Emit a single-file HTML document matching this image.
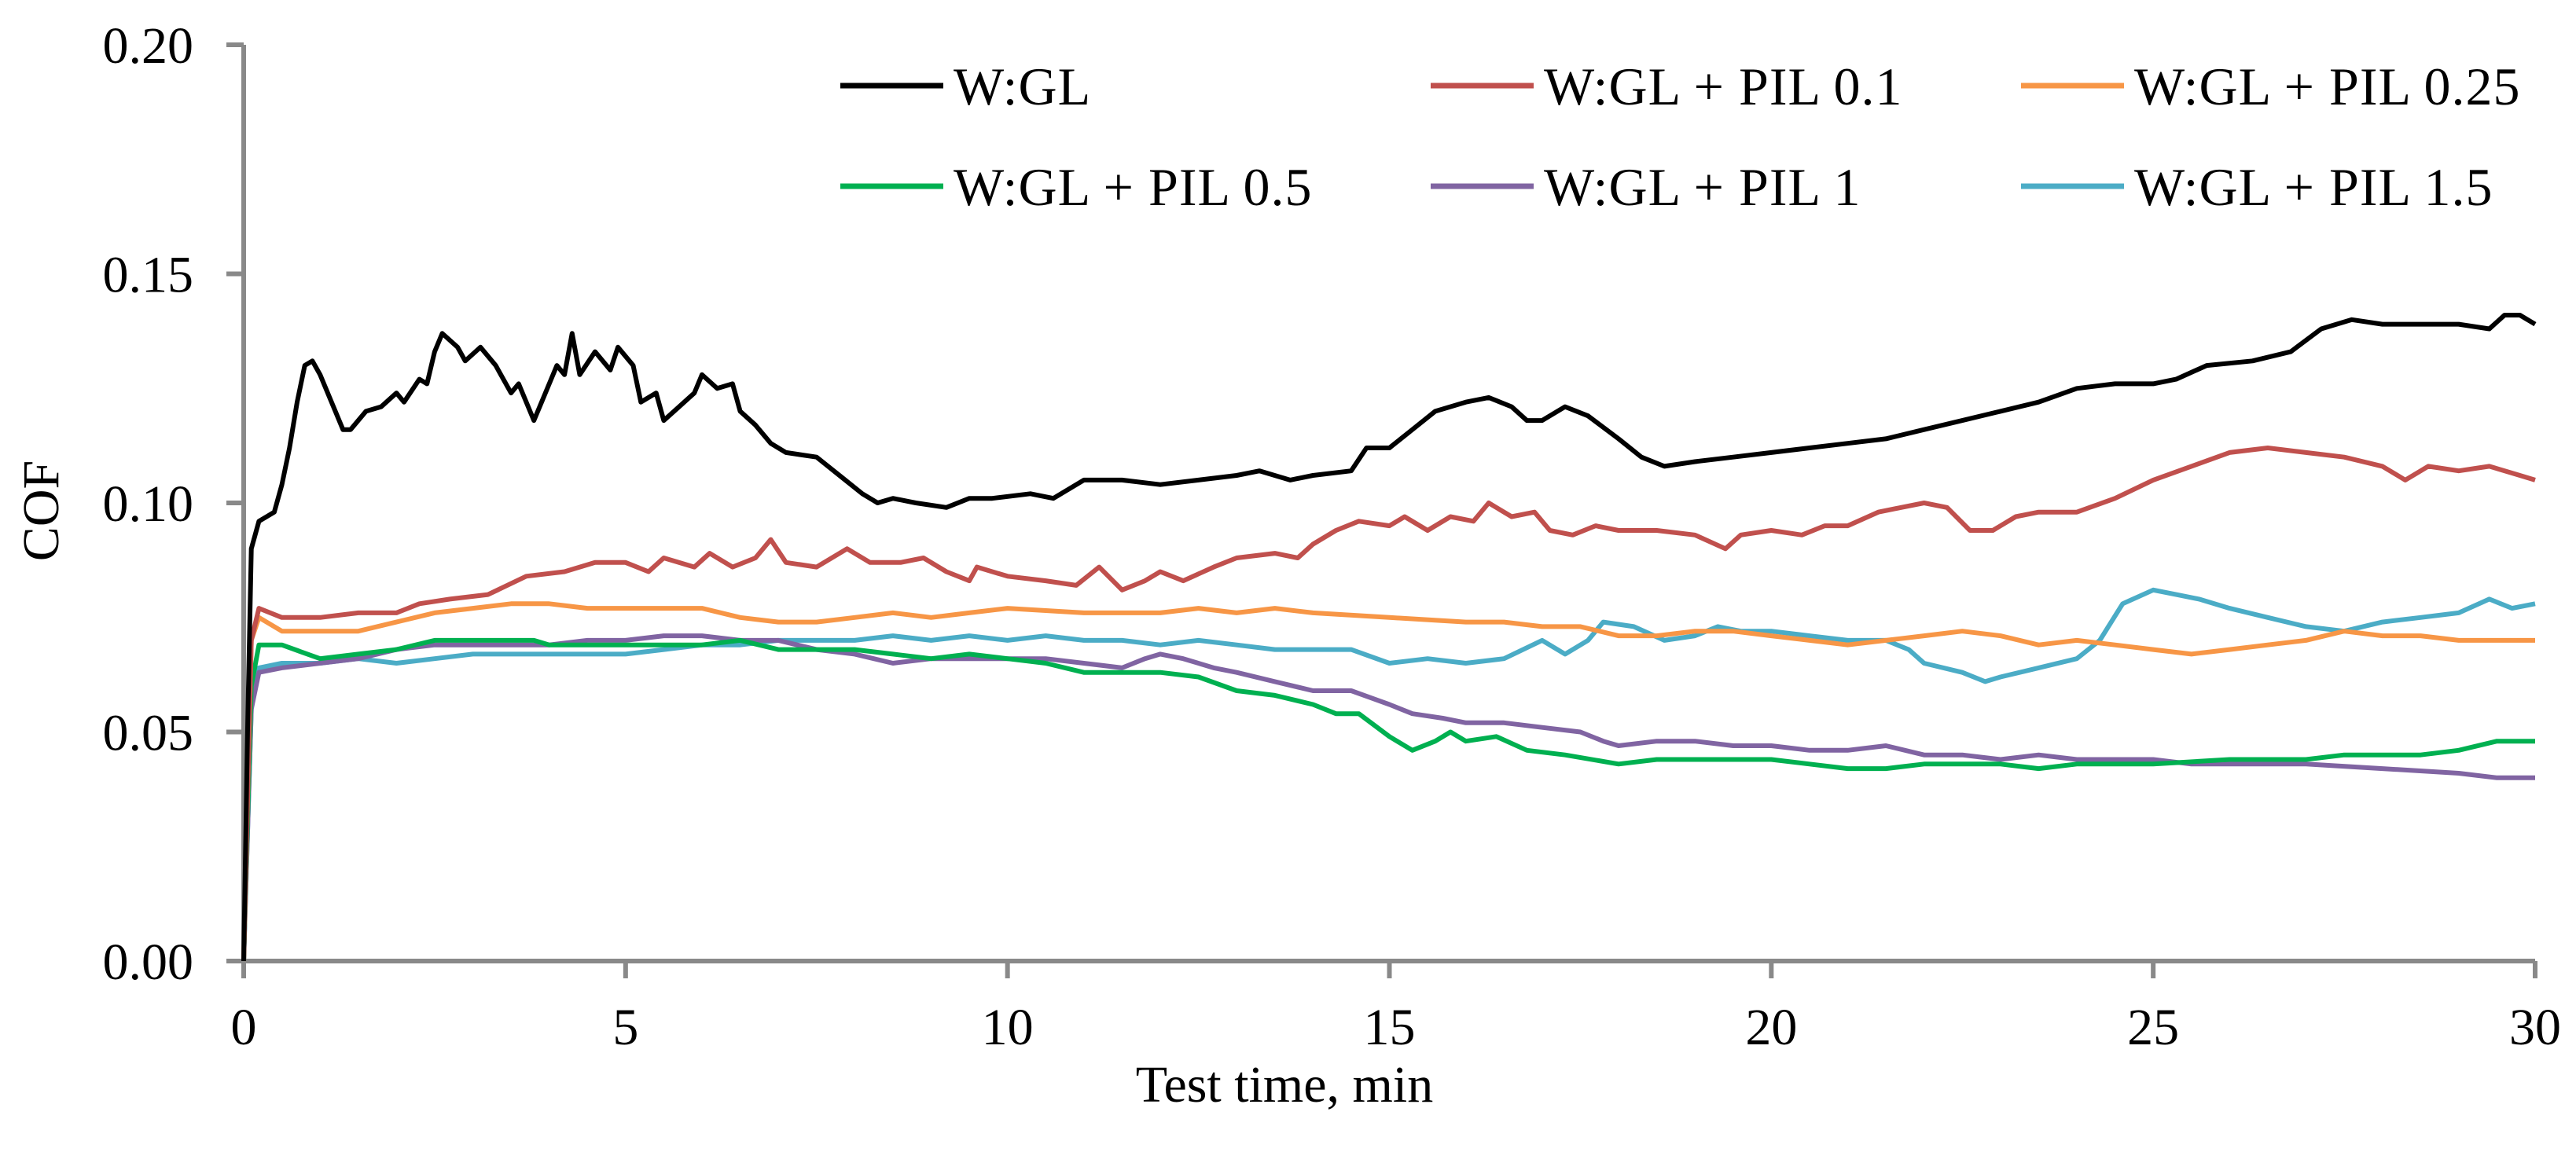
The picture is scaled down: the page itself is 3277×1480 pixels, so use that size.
<!DOCTYPE html>
<html><head><meta charset="utf-8">
<style>
html,body{margin:0;padding:0;background:#fff;}
svg{display:block;}
text{font-family:"Liberation Serif",serif;fill:#000;}
</style></head>
<body>
<svg id="chart" width="3277" height="1480" viewBox="0 0 3277 1480" xmlns="http://www.w3.org/2000/svg">
<g id="axes"></g>
<g id="series"></g>
<g id="legend"></g>
<text x="0" y="0" font-size="66" text-anchor="middle" transform="translate(74,650) rotate(-90)">COF</text>
<text x="1634" y="1402" font-size="66" text-anchor="middle">Test time, min</text>
</svg>
<script>
const xTicks = [0,5,10,15,20,25,30];
const yTicks = [0,0.05,0.10,0.15,0.20];
const yTickLabels = ["0.00","0.05","0.10","0.15","0.20"];
const seriesNames = ["W:GL","W:GL + PIL 0.1","W:GL + PIL 0.25","W:GL + PIL 0.5","W:GL + PIL 1","W:GL + PIL 1.5"];
const seriesColors = ["#000000","#c0504d","#f79646","#00b050","#8064a2","#4bacc6"];
const tBlack = [0,0.05,0.1,0.2,0.4,0.5,0.6,0.7,0.8,0.9,1.0,1.2,1.3,1.4,1.6,1.8,2.0,2.1,2.3,2.4,2.5,2.6,2.8,2.9,3.1,3.3,3.5,3.6,3.8,3.9,4.1,4.2,4.3,4.4,4.6,4.8,4.9,5.1,5.2,5.4,5.5,5.7,5.9,6.0,6.2,6.4,6.5,6.7,6.9,7.1,7.5,7.8,8.1,8.3,8.5,8.8,9.2,9.5,9.8,10.3,10.6,11.0,11.5,12.0,12.5,13.0,13.3,13.7,14.0,14.5,14.7,15.0,15.3,15.6,16.0,16.3,16.6,16.8,17.0,17.3,17.6,18.0,18.3,18.6,19.0,19.5,20.0,20.5,21.0,21.5,22.0,22.5,23.0,23.5,24.0,24.5,25.0,25.3,25.7,26.3,26.8,27.2,27.6,28.0,28.5,29.0,29.4,29.6,29.8,30];
const vBlack = [0,0.05,0.09,0.096,0.098,0.104,0.112,0.122,0.13,0.131,0.128,0.12,0.116,0.116,0.12,0.121,0.124,0.122,0.127,0.126,0.133,0.137,0.134,0.131,0.134,0.13,0.124,0.126,0.118,0.122,0.13,0.128,0.137,0.128,0.133,0.129,0.134,0.13,0.122,0.124,0.118,0.121,0.124,0.128,0.125,0.126,0.12,0.117,0.113,0.111,0.110,0.106,0.102,0.1,0.101,0.100,0.099,0.101,0.101,0.102,0.101,0.105,0.105,0.104,0.105,0.106,0.107,0.105,0.106,0.107,0.112,0.112,0.116,0.12,0.122,0.123,0.121,0.118,0.118,0.121,0.119,0.114,0.11,0.108,0.109,0.110,0.111,0.112,0.113,0.114,0.116,0.118,0.12,0.122,0.125,0.126,0.126,0.127,0.13,0.131,0.133,0.138,0.14,0.139,0.139,0.139,0.138,0.141,0.141,0.139];
const tRed = [0,0.1,0.2,0.5,1,1.5,2,2.3,2.7,3.2,3.7,4.2,4.6,5,5.3,5.5,5.9,6.1,6.4,6.7,6.9,7.1,7.5,7.9,8.2,8.6,8.9,9.2,9.5,9.6,10,10.5,10.9,11.2,11.5,11.8,12.0,12.3,12.7,13,13.5,13.8,14,14.3,14.6,15,15.2,15.5,15.8,16.1,16.3,16.6,16.9,17.1,17.4,17.7,18,18.5,19,19.4,19.6,20,20.4,20.7,21,21.4,21.7,22.0,22.3,22.6,22.9,23.2,23.5,24,24.5,25,25.5,26,26.5,27,27.5,28,28.3,28.6,29,29.4,29.8,30];
const vRed = [0,0.07,0.077,0.075,0.075,0.076,0.076,0.078,0.079,0.080,0.084,0.085,0.087,0.087,0.085,0.088,0.086,0.089,0.086,0.088,0.092,0.087,0.086,0.09,0.087,0.087,0.088,0.085,0.083,0.086,0.084,0.083,0.082,0.086,0.081,0.083,0.085,0.083,0.086,0.088,0.089,0.088,0.091,0.094,0.096,0.095,0.097,0.094,0.097,0.096,0.1,0.097,0.098,0.094,0.093,0.095,0.094,0.094,0.093,0.090,0.093,0.094,0.093,0.095,0.095,0.098,0.099,0.1,0.099,0.094,0.094,0.097,0.098,0.098,0.101,0.105,0.108,0.111,0.112,0.111,0.110,0.108,0.105,0.108,0.107,0.108,0.106,0.105];
const tOrange = [0,0.1,0.2,0.5,1,1.5,2,2.5,3,3.5,4,4.5,5,5.5,6,6.5,7,7.5,8,8.5,9,9.5,10,11,12,12.5,13,13.5,14,15,16,16.5,17,17.5,18,18.5,19,19.5,20,20.5,21,21.5,22,22.5,23,23.5,24,24.5,25,25.5,26,26.5,27,27.5,28,28.5,29,29.5,30];
const vOrange = [0,0.07,0.075,0.072,0.072,0.072,0.074,0.076,0.077,0.078,0.078,0.077,0.077,0.077,0.077,0.075,0.074,0.074,0.075,0.076,0.075,0.076,0.077,0.076,0.076,0.077,0.076,0.077,0.076,0.075,0.074,0.074,0.073,0.073,0.071,0.071,0.072,0.072,0.071,0.07,0.069,0.070,0.071,0.072,0.071,0.069,0.070,0.069,0.068,0.067,0.068,0.069,0.07,0.072,0.071,0.071,0.070,0.070,0.070];
const tGreen = [0,0.1,0.2,0.5,1,1.5,2,2.5,3,3.5,3.8,4,4.5,5,5.5,6,6.5,7,7.5,8,8.5,9,9.5,10,10.5,11,11.5,12,12.5,13,13.5,14,14.3,14.6,15,15.3,15.6,15.8,16,16.4,16.8,17.3,18,18.5,19,20,20.5,21,21.5,22,23,23.5,24,24.5,25,26,27,27.5,28,28.5,29,29.5,30];
const vGreen = [0,0.06,0.069,0.069,0.066,0.067,0.068,0.070,0.070,0.07,0.07,0.069,0.069,0.069,0.069,0.069,0.070,0.068,0.068,0.068,0.067,0.066,0.067,0.066,0.065,0.063,0.063,0.063,0.062,0.059,0.058,0.056,0.054,0.054,0.049,0.046,0.048,0.05,0.048,0.049,0.046,0.045,0.043,0.044,0.044,0.044,0.043,0.042,0.042,0.043,0.043,0.042,0.043,0.043,0.043,0.044,0.044,0.045,0.045,0.045,0.046,0.048,0.048];
const tPurple = [0,0.1,0.2,0.5,1,1.5,2,2.5,3,3.5,4,4.5,5,5.5,6,6.5,7,7.5,8,8.5,9,9.5,10,10.5,11,11.5,11.8,12,12.3,12.7,13,13.5,14,14.5,15,15.3,15.7,16,16.5,17,17.5,17.8,18,18.5,19,19.5,20,20.5,21,21.5,22,22.5,23,23.5,24,24.5,25,25.5,26,27,28,29,29.5,30];
const vPurple = [0,0.055,0.063,0.064,0.065,0.066,0.068,0.069,0.069,0.069,0.069,0.070,0.070,0.071,0.071,0.070,0.070,0.068,0.067,0.065,0.066,0.066,0.066,0.066,0.065,0.064,0.066,0.067,0.066,0.064,0.063,0.061,0.059,0.059,0.056,0.054,0.053,0.052,0.052,0.051,0.050,0.048,0.047,0.048,0.048,0.047,0.047,0.046,0.046,0.047,0.045,0.045,0.044,0.045,0.044,0.044,0.044,0.043,0.043,0.043,0.042,0.041,0.040,0.040];
const tCyan = [0,0.1,0.2,0.5,1,1.5,2,2.5,3,3.5,4,4.5,5,5.5,6,6.5,7,7.5,8,8.5,9,9.5,10,10.5,11,11.5,12,12.5,13,13.5,14,14.5,15,15.5,16,16.5,17,17.3,17.6,17.8,18.2,18.6,19,19.3,19.6,20,20.5,21,21.5,21.8,22,22.5,22.8,23,23.5,24,24.3,24.6,25,25.3,25.6,26,26.5,27,27.5,28,28.5,29,29.4,29.7,30];
const vCyan = [0,0.055,0.064,0.065,0.065,0.066,0.065,0.066,0.067,0.067,0.067,0.067,0.067,0.068,0.069,0.069,0.07,0.07,0.07,0.071,0.07,0.071,0.07,0.071,0.07,0.07,0.069,0.07,0.069,0.068,0.068,0.068,0.065,0.066,0.065,0.066,0.07,0.067,0.07,0.074,0.073,0.07,0.071,0.073,0.072,0.072,0.071,0.07,0.07,0.068,0.065,0.063,0.061,0.062,0.064,0.066,0.07,0.078,0.081,0.08,0.079,0.077,0.075,0.073,0.072,0.074,0.075,0.076,0.079,0.077,0.078];

const X0=310, X1=3225, Y0=1223, Y1=57;
function xs(t){return X0+(t-0)/(30-0)*(X1-X0);}
function ys(v){return Y0-(v-0)/(0.2-0)*(Y0-Y1);}
const NS="http://www.w3.org/2000/svg";
function mk(tag,attrs,parent){const e=document.createElementNS(NS,tag);for(const k in attrs)e.setAttribute(k,attrs[k]);parent.appendChild(e);return e;}
const axes=document.getElementById('axes');
let ax=mk('line',{x1:X0,y1:Y0,x2:X1,y2:Y0,stroke:'#898989','stroke-width':6},axes);


let ay=mk('line',{x1:X0,y1:Y0+3,x2:X0,y2:Y1,stroke:'#898989','stroke-width':6},axes);


xTicks.forEach(t=>{
  const l=mk('line',{x1:xs(t),y1:Y0,x2:xs(t),y2:Y0+22,stroke:'#898989','stroke-width':6},axes);
  
  
  const tx=mk('text',{x:xs(t),y:Y0+106,'font-size':66,'text-anchor':'middle'},axes);
  tx.textContent=String(t);
  
  
});
yTicks.forEach((v,i)=>{
  const l=mk('line',{x1:X0-22,y1:ys(v),x2:X0,y2:ys(v),stroke:'#898989','stroke-width':6},axes);
  
  
  const tx=mk('text',{x:246,y:ys(v)+23,'font-size':66,'text-anchor':'end'},axes);
  tx.textContent=yTickLabels[i];
  
  
});
const allT=[tBlack,tRed,tOrange,tGreen,tPurple,tCyan];
const allV=[vBlack,vRed,vOrange,vGreen,vPurple,vCyan];
const sg=document.getElementById('series');
const order=[5,4,3,2,1,0];
order.forEach(i=>{
  const d=allT[i].map((t,j)=>(j?'L':'M')+xs(t).toFixed(1)+','+ys(allV[i][j]).toFixed(1)).join(' ');
  const p=mk('path',{d:d,fill:'none',stroke:seriesColors[i],'stroke-width':6,'stroke-linejoin':'round'},sg);
  
  
});
const lg=document.getElementById('legend');
const colX=[1069,1820,2571], rowY=[109,237];
seriesNames.forEach((n,i)=>{
  const cx=colX[i%3], cy=rowY[Math.floor(i/3)];
  const l=mk('line',{x1:cx,y1:cy,x2:cx+131,y2:cy,stroke:seriesColors[i],'stroke-width':7},lg);
  
  
  const tx=mk('text',{x:cx+144,y:cy+24,'font-size':68,'letter-spacing':1},lg);
  tx.textContent=n;
  
  
});
</script>
</body></html>
